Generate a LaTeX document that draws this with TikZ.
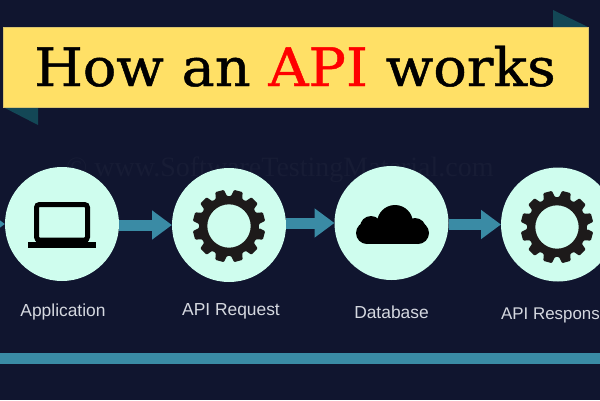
\documentclass[tikz,border=0pt]{standalone}
\usepackage{fontspec}
\usepackage{xcolor}
\usetikzlibrary{calc,arrows.meta}
\setmainfont{Liberation Sans}
\newfontfamily\titlefont[FakeBold=0.9,FakeStretch=1.05]{DejaVu Serif}
\newfontfamily\markfont{Liberation Serif}

\definecolor{navy}{HTML}{10152F}
\definecolor{mint}{HTML}{CFFDEE}
\definecolor{teal}{HTML}{3A8BA5}
\definecolor{fold}{HTML}{134756}
\definecolor{banner}{HTML}{FFE066}
\definecolor{gearblack}{HTML}{1D1A1A}
\definecolor{caption}{HTML}{D5D8E0}
\definecolor{markgray}{HTML}{171C35}

\tikzset{
  station/.style={circle, fill=mint, minimum size=114pt, inner sep=0pt, outer sep=0pt},
  flow/.style={draw=teal, line width=11pt, -{Triangle[length=20pt,width=28pt]}},
  caption/.style={text=caption, anchor=base, inner sep=0pt, font=\fontsize{17.4}{20}\selectfont},
}

\begin{document}
\begin{tikzpicture}[x=1pt, y=-1pt]
      % page
      \useasboundingbox (0,0) rectangle (600,400);
      \clip (0,0) rectangle (600,400);
      \fill [navy] (0,0) rectangle (600,400);

      \node [text=markgray, anchor=base west, inner sep=0pt, font=\markfont\fontsize{28}{28}\selectfont,
      name=mark] at (66,176) {© www.SoftwareTestingMaterial.com};

      % ribbon
      \fill [fold] (553,10) -- (588,27) -- (553,27) -- cycle;
      \fill [fold] (3,107) -- (38,125) -- (38,107) -- cycle;
      \node [rectangle, fill=banner, draw=banner!70!gray, line width=0.4pt, minimum width=585pt,
      minimum height=80pt, inner sep=0pt, name=ribbon] at (295.5,67) {};
      \node [anchor=base, inner sep=0pt, font=\titlefont\fontsize{53}{53}\selectfont,
      name=title] at (295,86) {How an \textcolor{red}{API} works};

      % stations
      \node [station, name=application] at (62,224) {};
      \node [station, name=request] at (229,225) {};
      \node [station, name=database] at (391.5,223) {};
      \node [station, name=response] at (558,224.5) {};

      % flow between the stations
      \coordinate (inlet) at (-30,224);
      \draw [flow] (inlet) -- (application.west);
      \draw [flow] (application.east |- request.west) -- (request.west);
      \draw [flow] (request.east |- database.west) -- (database.west);
      \draw [flow] (database.east |- response.west) -- (response.west);

      % laptop
      \draw [black, line width=5pt, rounded corners=3pt] (36.5,204.5) rectangle (87.5,240);
      \fill [black] (36,238) rectangle (88,243);
      \fill [black] (28,242) rectangle (96,248);

      % gears
      \coordinate (requestgear) at (229,226);
      \coordinate (responsegear) at (557,227);
      \foreach \gear in {requestgear, responsegear} {
        \fill [gearblack, even odd rule, rounded corners=1pt] ($(\gear)+(5:30)$)
        \foreach \tooth in {15,45,...,345} {
          -- ($(\gear)+(\tooth-11:30)$) -- ($(\gear)+(\tooth-7:36.5)$)
          -- ($(\gear)+(\tooth+7:36.5)$) -- ($(\gear)+(\tooth+11:30)$)
        } -- cycle (\gear) circle (21.7);
      }

      % cloud
      \fill [black] (367,225) rectangle (418,244);
      \fill [black] (367,233) circle (11);
      \fill [black] (418,233) circle (11);
      \fill [black] (371,227) circle (11);
      \fill [black] (415,229) circle (11);
      \fill [black] (395,223) circle (18);

      % captions
      \node [caption, name=applicationlabel] at (63,316) {Application};
      \node [caption, name=requestlabel] at (231,315) {API Request};
      \node [caption, name=databaselabel] at (391.5,318.5) {Database};
      \node [caption, anchor=base west, font=\fontsize{16.9}{20}\selectfont,
      name=responselabel] at (501,319) {API Respons};

      % bottom bar
      \fill [teal] (0,353) rectangle (600,364);
\end{tikzpicture}
\end{document}
